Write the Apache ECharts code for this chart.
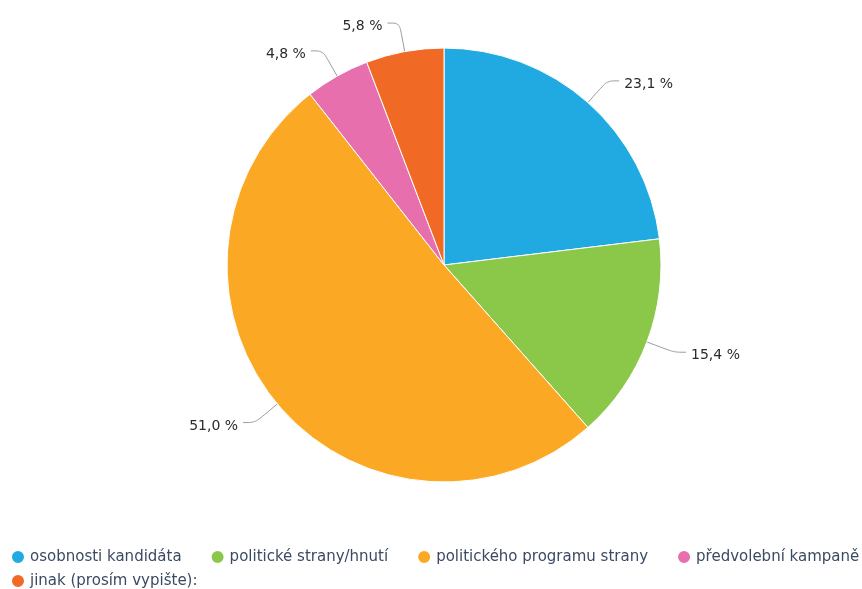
<!DOCTYPE html>
<html><head><meta charset="utf-8">
<script src="https://cdn.jsdelivr.net/npm/echarts@6/dist/echarts.min.js"></script>
<style>html,body{margin:0;padding:0;background:#fff}#c{width:862px;height:589px}</style>
</head><body><div id="c"></div>
<script>
const categories = ["osobnosti kandidáta", "politické strany/hnutí", "politického programu strany", "předvolební kampaně", "jinak (prosím vypište):"];
const values = [23.1, 15.4, 51.0, 4.8, 5.8];
const colors = ["#21a9e1", "#8bc84a", "#fba924", "#e86fad", "#f06a25"];

const legendBase = {
  left: 10, width: 1200,
  icon: 'circle', itemWidth: 14, itemHeight: 14, itemGap: 28,
  textStyle: { fontFamily: 'DejaVu Sans', fontSize: 15, color: '#3b4a63' },
  padding: 0
};
const chart = echarts.init(document.getElementById('c'));
chart.setOption({
  animation: false,
  color: colors,
  legend: [
    Object.assign({}, legendBase, { top: 549, data: categories.slice(0, 4) }),
    Object.assign({}, legendBase, { top: 573, data: categories.slice(4) })
  ],
  series: [{
    type: 'pie',
    center: [444, 265],
    radius: 217,
    startAngle: 90,
    clockwise: true,
    itemStyle: { borderColor: '#fff', borderWidth: 1 },
    label: {
      show: true, position: 'outside',
      fontFamily: 'DejaVu Sans', fontSize: 14, color: '#2b2b2b',
      formatter: p => '{a|' + p.value.toFixed(1).replace('.', ',') + ' %}',
      rich: { a: { fontFamily: 'DejaVu Sans', fontSize: 14, color: '#2b2b2b', padding: [7, 0, 0, 0] } }
    },
    labelLine: { show: true, length: 29, length2: 12, smooth: true, lineStyle: { color: '#999', width: 1 } },
    data: categories.map((c, i) => ({ name: c, value: values[i] }))
  }]
});
</script></body></html>
